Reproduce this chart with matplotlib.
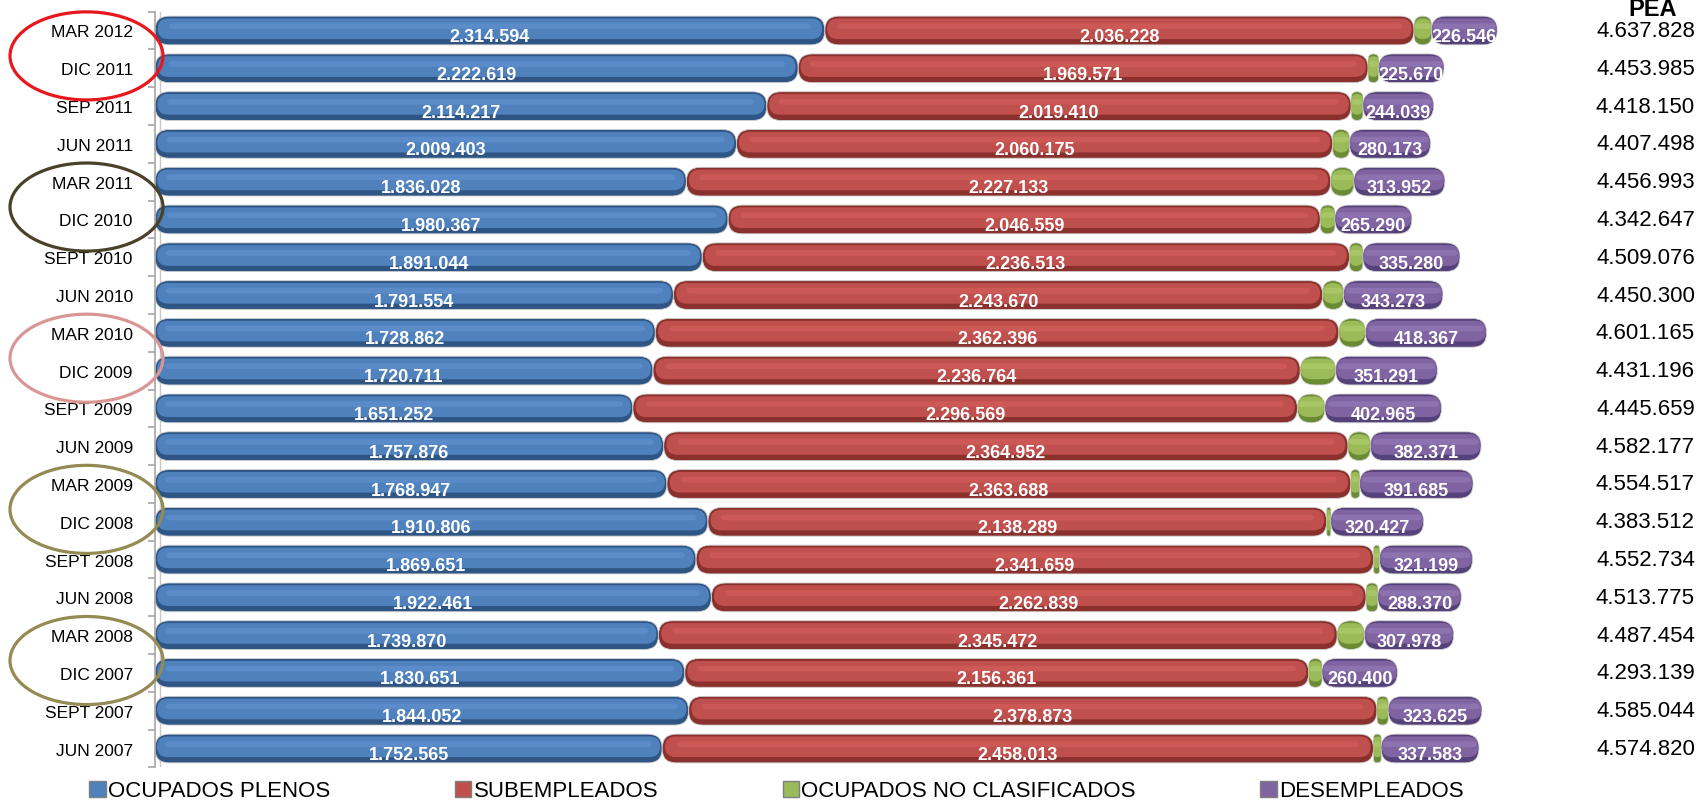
#!/usr/bin/env python3

# pea_barras.py

import matplotlib
matplotlib.use('Agg')
import matplotlib.pyplot as plt
import matplotlib.transforms as mtransforms
from matplotlib.patches import FancyBboxPatch, Ellipse, Patch
import numpy as np

FUENTE = ['Liberation Sans Narrow', 'Liberation Sans', 'DejaVu Sans']
plt.rcParams['font.family'] = FUENTE

# datos (de abajo hacia arriba)
periodos = ['JUN 2007', 'SEPT 2007', 'DIC 2007', 'MAR 2008', 'JUN 2008',
            'SEPT 2008', 'DIC 2008', 'MAR 2009', 'JUN 2009', 'SEPT 2009',
            'DIC 2009', 'MAR 2010', 'JUN 2010', 'SEPT 2010', 'DIC 2010',
            'MAR 2011', 'JUN 2011', 'SEP 2011', 'DIC 2011', 'MAR 2012']
plenos = [1752565, 1844052, 1830651, 1739870, 1922461, 1869651, 1910806,
          1768947, 1757876, 1651252, 1720711, 1728862, 1791554, 1891044,
          1980367, 1836028, 2009403, 2114217, 2222619, 2314594]
subempleados = [2458013, 2378873, 2156361, 2345472, 2262839, 2341659, 2138289,
                2363688, 2364952, 2296569, 2236764, 2362396, 2243670, 2236513,
                2046559, 2227133, 2060175, 2019410, 1969571, 2036228]
no_clasificados = [26659, 38494, 45727, 94134, 40105, 20225, 13990,
                   30197, 76978, 94873, 122430, 91540, 71803, 46239,
                   50431, 79880, 57747, 40484, 36125, 60460]
desempleados = [337583, 323625, 260400, 307978, 288370, 321199, 320427,
                391685, 382371, 402965, 351291, 418367, 343273, 335280,
                265290, 313952, 280173, 244039, 225670, 226546]
pea = [4574820, 4585044, 4293139, 4487454, 4513775, 4552734, 4383512,
       4554517, 4582177, 4445659, 4431196, 4601165, 4450300, 4509076,
       4342647, 4456993, 4407498, 4418150, 4453985, 4637828]

series = ['OCUPADOS PLENOS', 'SUBEMPLEADOS', 'OCUPADOS NO CLASIFICADOS', 'DESEMPLEADOS']
# (oscuro, principal, claro)
colores = [('#2F5584', '#4F81BD', '#6A9BD9'),
           ('#8A302D', '#C0504D', '#DB6662'),
           ('#6A8A34', '#9BBB59', '#B8D577'),
           ('#56427A', '#8064A2', '#9C84BE')]

# parejas marcadas con elipse (indice del trimestre de arriba) y color
elipses = [(19, '#E8171B'), (15, '#4A4228'), (11, '#D99694'),
           (7, '#948A54'), (3, '#948A54')]


def fmt(v):
    return f'{v:,}'.replace(',', '.')


def main():
    fig = plt.figure(figsize=(16.99, 8.04), dpi=100)
    W, H = 1699, 804
    ax = fig.add_axes([155 / W, 35.6 / H, 1418 / W, 755.8 / H])
    xmax = 4.9e6
    n = len(periodos)
    y = np.arange(n)
    alto = 0.76

    # escala para redondear extremos
    ux = xmax / 1418.0
    uy = n / 755.8
    aspecto = uy / ux
    radio = 14.0 * ux

    datos = [plenos, subempleados, no_clasificados, desempleados]
    izq = np.zeros(n)
    for k, vals in enumerate(datos):
        barras = ax.barh(y, vals, left=izq, height=alto, color=colores[k][1])
        oscuro, medio, claro = colores[k]
        for b in barras:
            x0, y0 = b.get_x(), b.get_y()
            w, h = b.get_width(), b.get_height()
            b.set_visible(False)
            r = min(radio, w / 2)
            ax.add_patch(FancyBboxPatch((x0, y0), w, h,
                                        boxstyle=f'round,pad=0,rounding_size={r}',
                                        mutation_aspect=aspecto, fc=oscuro,
                                        ec='#D0D0D0', lw=0.6, zorder=2 + k * 0.1))
            r2 = min(radio * 0.75, w / 2)
            ax.add_patch(FancyBboxPatch((x0 + w * 0.004, y0 + h * 0.2), w * 0.992, h * 0.72,
                                        boxstyle=f'round,pad=0,rounding_size={r2}',
                                        mutation_aspect=aspecto, fc=medio,
                                        ec='none', zorder=2.02 + k * 0.1))
            r3 = min(radio * 0.3, w / 2)
            ax.add_patch(FancyBboxPatch((x0 + w * 0.02, y0 + h * 0.55), w * 0.96, h * 0.2,
                                        boxstyle=f'round,pad=0,rounding_size={r3}',
                                        mutation_aspect=aspecto, fc=claro,
                                        ec='none', alpha=0.45, zorder=2.04 + k * 0.1))
        if k != 2:
            for i, v in enumerate(vals):
                ax.text(izq[i] + v / 2, y[i] - 0.16, fmt(v), ha='center', va='center',
                        color='white', fontsize=13, fontweight='bold', zorder=5)
        izq = izq + np.array(vals)

    ax.set_xlim(0, xmax)
    ax.set_ylim(-0.5, n - 0.5)
    ax.set_yticks(y)
    ax.set_yticklabels(periodos, fontsize=12.5)
    ax.set_yticks(np.arange(-0.5, n, 1), minor=True)
    ax.tick_params(axis='y', which='major', length=0, pad=16)
    ax.tick_params(axis='y', which='minor', length=5, color='#A6A6A6', width=1.2)
    ax.set_xticks([])
    for s in ['top', 'right', 'bottom']:
        ax.spines[s].set_visible(False)
    ax.spines['left'].set_color('#A6A6A6')
    ax.spines['left'].set_linewidth(1.2)
    ax.axvline(5 * ux, color='#C8C8C8', lw=1.0, zorder=1)

    # columna PEA
    trans = mtransforms.blended_transform_factory(fig.transFigure, ax.transData)
    for i, v in enumerate(pea):
        ax.text(1695 / W, y[i], fmt(v), transform=trans, ha='right', va='center',
                fontsize=16, clip_on=False)
    fig.text(1653 / W, 1 - 16.5 / H, 'PEA', ha='center', va='baseline',
             fontsize=17, fontweight='bold')

    # elipses
    for arriba, col in elipses:
        yc = arriba - 0.5 - 6.5 / 37.8
        ax.add_patch(Ellipse((86.5 / W, yc), 153 / W, 2.33, transform=trans,
                             fill=False, ec=col, lw=2.3, clip_on=False, zorder=6))

    # leyenda
    manijas = [Patch(fc=c[1], ec='#7F7F7F', lw=1.0) for c in colores]
    fig.legend(manijas, series, loc='center left', bbox_to_anchor=(89 / W, 1 - 792 / H),
               ncol=4, frameon=False, fontsize=16, handlelength=0.75, handleheight=0.75,
               handletextpad=0.1, columnspacing=5.6, borderpad=0, borderaxespad=0)

    fig.savefig('out.png', dpi=100)


if __name__ == "__main__":
    main()
